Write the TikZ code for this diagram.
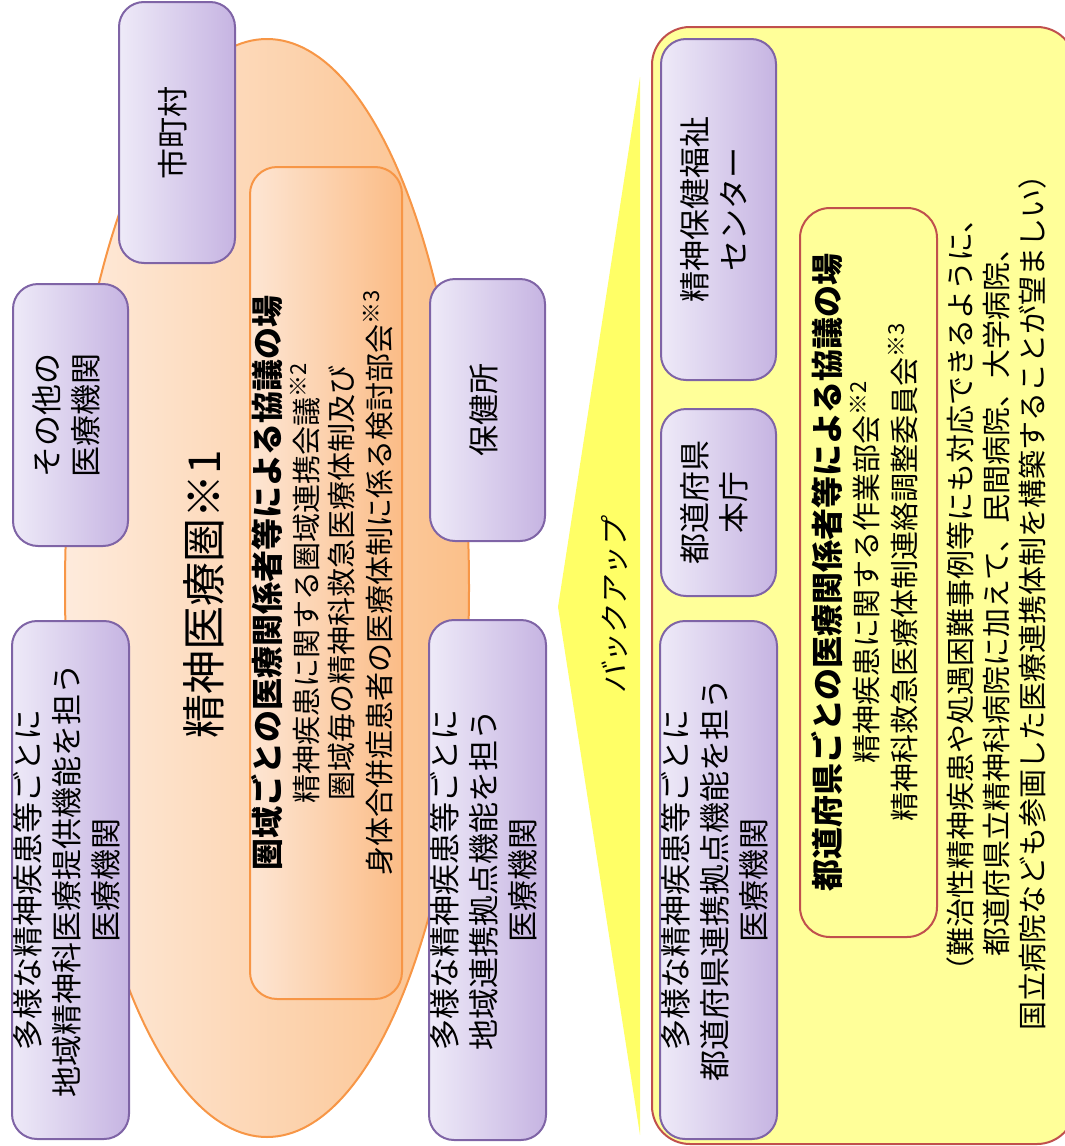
\documentclass[tikz,border=0pt]{standalone}
\usepackage{fontspec}
\setmainfont{Noto Sans CJK JP}
\newfontfamily\jpslant{Noto Sans CJK JP}[FakeSlant=0.2]
\usepackage{graphicx}
\usetikzlibrary{shapes.geometric}

\definecolor{pL}{HTML}{EEEAF8}
\definecolor{pR}{HTML}{C6B4E2}
\definecolor{pB}{HTML}{7F64A6}
\definecolor{oL}{HTML}{FEEBDC}
\definecolor{oR}{HTML}{FBC08A}
\definecolor{oB}{HTML}{F79646}
\definecolor{iL}{HTML}{FDE6D4}
\definecolor{iR}{HTML}{FBBC86}
\definecolor{yF}{HTML}{FFFF99}
\definecolor{yT}{HTML}{FFFF66}
\definecolor{rB}{HTML}{C0504D}

\newcommand\vtext[3]{\rotatebox{90}{\fontsize{#1}{#2}\selectfont\begin{tabular}{@{}c@{}}#3\end{tabular}}}
\newcommand\sups[1]{\raisebox{11pt}{\fontsize{22}{22}\selectfont ※#1}}

\tikzset{
  pbox/.style={draw=pB, line width=2pt, rounded corners=25pt, left color=pL, right color=pR, inner sep=0pt, outer sep=0pt},
  obox/.style={draw=oB, line width=2pt, rounded corners=27pt, left color=iL, right color=iR, inner sep=0pt},
  rbox/.style={draw=rB, line width=2pt, rounded corners=30pt, fill=yF, inner sep=0pt},
}

\begin{document}
\begin{tikzpicture}[x=1pt,y=-1pt]
\useasboundingbox (0,0) rectangle (1065,1146);
\clip (0,0) rectangle (1065,1146);

% ---- left: psychiatric medical area ----
\node[ellipse, draw=oB, line width=2pt, left color=oL, right color=oR,
      minimum width=404pt, minimum height=1098pt, inner sep=0pt] (ken) at (267,588) {};

\node[obox, minimum width=152pt, minimum height=832pt] (kyogi) at (326,583)
  {\vtext{29}{35}{{\bfseries\fontsize{32}{35}\selectfont 圏域ごとの医療関係者等による協議の場}\\
   精神疾患に関する圏域連携会議\sups{2}\\
   圏域毎の精神科救急医療体制及び\\
   身体合併症患者の医療体制に係る検討部会\sups{3}}};

\node[rotate=90, font=\fontsize{44}{44}\selectfont, inner sep=0pt] (kenname) at (204,594) {精神医療圏※1};

\node[pbox, minimum width=116pt, minimum height=261pt] (mura) at (177,132.5)
  {\vtext{31}{39}{市町村}};
\node[pbox, minimum width=115pt, minimum height=262pt] (sonota) at (70.5,415)
  {\vtext{31}{39}{その他の\\医療機関}};
\node[pbox, minimum width=115pt, minimum height=262pt] (hoken) at (487.5,410)
  {\vtext{31}{39}{保健所}};
\node[pbox, minimum width=115pt, minimum height=518pt] (chiiki) at (70.5,880)
  {\vtext{31}{39}{多様な精神疾患等ごとに\\地域精神科医療提供機能を担う\\医療機関}};
\node[pbox, minimum width=115pt, minimum height=520pt] (renkei) at (487.5,880)
  {\vtext{31}{39}{多様な精神疾患等ごとに\\地域連携拠点機能を担う\\医療機関}};

% ---- backup arrow ----
\fill[yT] (640,77) -- (558,607) -- (640,1135) -- cycle;
\node[rotate=90, font=\jpslant\fontsize{29}{29}\selectfont, inner sep=0pt] (backup) at (615,606) {バックアップ};

% ---- right: prefecture ----
\draw[draw=rB, line width=2pt, fill=yF, rounded corners=38pt] (652,27) rectangle (1075,1144);

\node[pbox, minimum width=115pt, minimum height=341pt] (seishin) at (718.5,209.5)
  {\vtext{31}{39}{精神保健福祉\\センター}};
\node[pbox, minimum width=115pt, minimum height=187pt] (honcho) at (718.5,502.5)
  {\vtext{31}{39}{都道府県\\本庁}};
\node[pbox, minimum width=115pt, minimum height=518pt] (pref) at (718.5,880)
  {\vtext{31}{39}{多様な精神疾患等ごとに\\都道府県連携拠点機能を担う\\医療機関}};

\node[rbox, minimum width=137pt, minimum height=729pt] (prefkyogi) at (868.5,572.5)
  {\vtext{29}{36}{{\bfseries\fontsize{32}{36}\selectfont 都道府県ごとの医療関係者等による協議の場}\\
   精神疾患に関する作業部会\sups{2}\\
   精神科救急医療体制連絡調整委員会\sups{3}}};

\node[inner sep=0pt] (note) at (1000,595)
  {\vtext{29}{36}{（難治性精神疾患や処遇困難事例等にも対応できるように、\\
   都道府県立精神科病院に加えて、民間病院、大学病院、\\
   国立病院なども参画した医療連携体制を構築することが望ましい）}};
\end{tikzpicture}
\end{document}
